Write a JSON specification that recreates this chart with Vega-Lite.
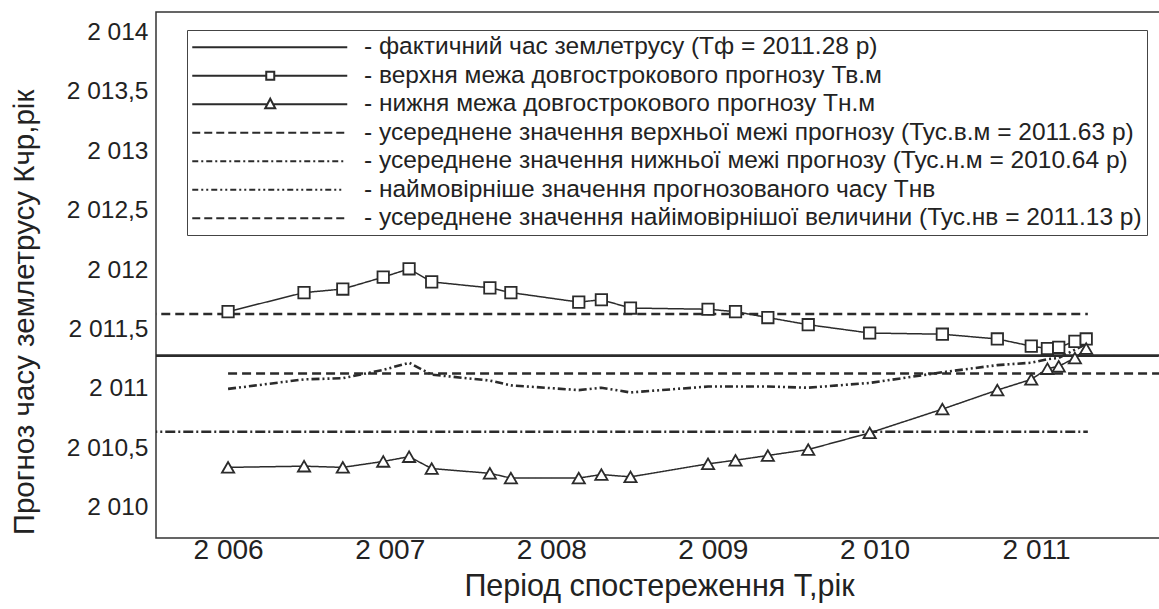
{
  "$schema": "https://vega.github.io/schema/vega-lite/v6.json",
  "width": 1006,
  "height": 526,
  "autosize": "none",
  "padding": {"left": 156, "top": 12, "right": 0, "bottom": 71},
  "background": "white",
  "config": {
    "font": "Liberation Sans",
    "view": {"stroke": "#333333", "strokeWidth": 1.5},
    "axis": {"grid": false, "ticks": false, "domain": false, "labelColor": "#222222", "titleColor": "#222222", "labelFont": "Liberation Sans", "titleFont": "Liberation Sans", "titleFontWeight": "normal"}
  },
  "data": {
    "values": [
      {"s": "a", "x": 2005.5, "y": 2011.28}, {"s": "a", "x": 2011.9, "y": 2011.28},
      {"s": "d", "x": 2005.5, "y": 2011.63}, {"s": "d", "x": 2011.32, "y": 2011.63},
      {"s": "e", "x": 2005.5, "y": 2010.64}, {"s": "e", "x": 2011.32, "y": 2010.64},
      {"s": "g", "x": 2006.0, "y": 2011.13}, {"s": "g", "x": 2011.9, "y": 2011.13},
      {"s": "b", "x": 2006.00, "y": 2011.65}, {"s": "b", "x": 2006.47, "y": 2011.81}, {"s": "b", "x": 2006.71, "y": 2011.84},
      {"s": "b", "x": 2006.96, "y": 2011.94}, {"s": "b", "x": 2007.12, "y": 2012.01}, {"s": "b", "x": 2007.26, "y": 2011.90},
      {"s": "b", "x": 2007.62, "y": 2011.85}, {"s": "b", "x": 2007.75, "y": 2011.81}, {"s": "b", "x": 2008.17, "y": 2011.73},
      {"s": "b", "x": 2008.31, "y": 2011.75}, {"s": "b", "x": 2008.49, "y": 2011.68}, {"s": "b", "x": 2008.97, "y": 2011.67},
      {"s": "b", "x": 2009.14, "y": 2011.65}, {"s": "b", "x": 2009.34, "y": 2011.60}, {"s": "b", "x": 2009.59, "y": 2011.54},
      {"s": "b", "x": 2009.97, "y": 2011.47}, {"s": "b", "x": 2010.42, "y": 2011.46}, {"s": "b", "x": 2010.76, "y": 2011.42},
      {"s": "b", "x": 2010.97, "y": 2011.36}, {"s": "b", "x": 2011.07, "y": 2011.34}, {"s": "b", "x": 2011.14, "y": 2011.35},
      {"s": "b", "x": 2011.24, "y": 2011.40}, {"s": "b", "x": 2011.31, "y": 2011.42},
      {"s": "c", "x": 2006.00, "y": 2010.34}, {"s": "c", "x": 2006.47, "y": 2010.35}, {"s": "c", "x": 2006.71, "y": 2010.34},
      {"s": "c", "x": 2006.96, "y": 2010.39}, {"s": "c", "x": 2007.12, "y": 2010.43}, {"s": "c", "x": 2007.26, "y": 2010.33},
      {"s": "c", "x": 2007.62, "y": 2010.29}, {"s": "c", "x": 2007.75, "y": 2010.25}, {"s": "c", "x": 2008.17, "y": 2010.25},
      {"s": "c", "x": 2008.31, "y": 2010.28}, {"s": "c", "x": 2008.49, "y": 2010.26}, {"s": "c", "x": 2008.97, "y": 2010.37},
      {"s": "c", "x": 2009.14, "y": 2010.40}, {"s": "c", "x": 2009.34, "y": 2010.44}, {"s": "c", "x": 2009.59, "y": 2010.49},
      {"s": "c", "x": 2009.97, "y": 2010.63}, {"s": "c", "x": 2010.42, "y": 2010.83}, {"s": "c", "x": 2010.76, "y": 2010.99},
      {"s": "c", "x": 2010.97, "y": 2011.08}, {"s": "c", "x": 2011.07, "y": 2011.17}, {"s": "c", "x": 2011.14, "y": 2011.19},
      {"s": "c", "x": 2011.24, "y": 2011.26}, {"s": "c", "x": 2011.31, "y": 2011.34},
      {"s": "f", "x": 2006.00, "y": 2011.00}, {"s": "f", "x": 2006.47, "y": 2011.08}, {"s": "f", "x": 2006.71, "y": 2011.09},
      {"s": "f", "x": 2006.96, "y": 2011.16}, {"s": "f", "x": 2007.12, "y": 2011.22}, {"s": "f", "x": 2007.26, "y": 2011.12},
      {"s": "f", "x": 2007.62, "y": 2011.07}, {"s": "f", "x": 2007.75, "y": 2011.03}, {"s": "f", "x": 2008.17, "y": 2010.99},
      {"s": "f", "x": 2008.31, "y": 2011.01}, {"s": "f", "x": 2008.49, "y": 2010.97}, {"s": "f", "x": 2008.97, "y": 2011.02},
      {"s": "f", "x": 2009.14, "y": 2011.02}, {"s": "f", "x": 2009.34, "y": 2011.02}, {"s": "f", "x": 2009.59, "y": 2011.01},
      {"s": "f", "x": 2009.97, "y": 2011.05}, {"s": "f", "x": 2010.42, "y": 2011.14}, {"s": "f", "x": 2010.76, "y": 2011.20},
      {"s": "f", "x": 2010.97, "y": 2011.22}, {"s": "f", "x": 2011.07, "y": 2011.25}, {"s": "f", "x": 2011.14, "y": 2011.26},
      {"s": "f", "x": 2011.24, "y": 2011.33}, {"s": "f", "x": 2011.31, "y": 2011.38}
    ]
  },
  "encoding": {
    "x": {
      "field": "x", "type": "quantitative",
      "scale": {"domain": [2005.554, 2011.779], "nice": false, "zero": false},
      "axis": {
        "values": [2006, 2007, 2008, 2009, 2010, 2011],
        "labelExpr": "replace(format(datum.value, ',d'), ',', ' ')",
        "labelFontSize": 28, "labelPadding": -2,
        "title": "Період спостереження Т,рік", "titleFontSize": 30.5, "titlePadding": 7
      }
    },
    "y": {
      "field": "y", "type": "quantitative",
      "scale": {"domain": [2009.746, 2014.17], "nice": false, "zero": false},
      "axis": {
        "values": [2010, 2010.5, 2011, 2011.5, 2012, 2012.5, 2013, 2013.5, 2014],
        "labelExpr": "replace(replace(format(datum.value, ',.1~f'), ',', ' '), '.', ',')",
        "labelFontSize": 24.5, "labelPadding": 8,
        "title": "Прогноз часу землетрусу Кчр,рік", "titleFontSize": 29.5,
        "titleX": -123, "titleY": 300, "titleBaseline": "alphabetic"
      }
    }
  },
  "layer": [
    {
      "mark": {"type": "line", "clip": true, "color": "#2b2b2b"},
      "encoding": {
        "strokeDash": {
          "field": "s", "type": "nominal",
          "scale": {
            "domain": ["g", "f", "e", "d", "c", "b", "a"],
            "range": [[9, 5], [8, 3, 2, 3, 2, 3], [10, 3, 2, 3], [9, 5], [1, 0], [1, 0], [1, 0]]
          },
          "legend": null
        },
        "strokeWidth": {
          "condition": {"test": "datum.s == 'b' || datum.s == 'c'", "value": 1.5},
          "value": 2.6
        }
      }
    },
    {
      "transform": [{"filter": "datum.s == 'b'"}],
      "mark": {"type": "point", "shape": "square", "filled": true, "fill": "white", "stroke": "#2b2b2b", "strokeWidth": 1.8, "size": 130, "opacity": 1}
    },
    {
      "transform": [{"filter": "datum.s == 'c'"}],
      "mark": {"type": "point", "shape": "triangle-up", "filled": true, "fill": "white", "stroke": "#2b2b2b", "strokeWidth": 1.8, "size": 150, "opacity": 1}
    },
    {
      "transform": [{"filter": "datum.s == 'zzz'"}],
      "mark": {"type": "point", "color": "#2b2b2b", "strokeWidth": 2, "opacity": 1},
      "encoding": {
        "shape": {
          "field": "s", "type": "nominal",
          "scale": {
            "domain": ["a", "b", "c", "d", "e", "f", "g"],
            "range": [
              "M-2.4,0H28.6",
              "M-2.4,0H12.4M14,0H28.6M12.4,-0.8H14V0.8H12.4Z",
              "M-2.4,0H12.62M13.78,0H28.6M13.2,-1.1L14.2,0.8H12.2Z",
              "M-2.4,0h1.6m0.8,0h1.6m0.8,0h1.6m0.8,0h1.6m0.8,0h1.6m0.8,0h1.6m0.8,0h1.6m0.8,0h1.6m0.8,0h1.6m0.8,0h1.6m0.8,0h1.6m0.8,0h1.6m0.8,0h1.6",
              "M-2.4,0h1.2m0.6,0h0.4m0.6,0h1.2m0.6,0h0.4m0.6,0h1.2m0.6,0h0.4m0.6,0h1.2m0.6,0h0.4m0.6,0h1.2m0.6,0h0.4m0.6,0h1.2m0.6,0h0.4m0.6,0h1.2m0.6,0h0.4m0.6,0h1.2m0.6,0h0.4m0.6,0h1.2m0.6,0h0.4m0.6,0h1.2m0.6,0h0.4m0.6,0h1.2m0.6,0h0.4",
              "M-2.4,0h1.2m0.6,0h0.4m0.6,0h0.4m0.6,0h1.2m0.6,0h0.4m0.6,0h0.4m0.6,0h1.2m0.6,0h0.4m0.6,0h0.4m0.6,0h1.2m0.6,0h0.4m0.6,0h0.4m0.6,0h1.2m0.6,0h0.4m0.6,0h0.4m0.6,0h1.2m0.6,0h0.4m0.6,0h0.4m0.6,0h1.2m0.6,0h0.4m0.6,0h0.4m0.6,0h1.2m0.6,0h0.4m0.6,0h0.4",
              "M-2.4,0h1.6m0.8,0h1.6m0.8,0h1.6m0.8,0h1.6m0.8,0h1.6m0.8,0h1.6m0.8,0h1.6m0.8,0h1.6m0.8,0h1.6m0.8,0h1.6m0.8,0h1.6m0.8,0h1.6m0.8,0h1.6"
            ]
          },
          "legend": {
            "orient": "none", "legendX": 31, "legendY": 18,
            "title": null, "padding": 5,
            "strokeColor": "#444444", "fillColor": "white",
            "symbolSize": 100, "symbolStrokeWidth": 2, "symbolStrokeColor": "#2b2b2b", "symbolFillColor": "transparent", "symbolOpacity": 1,
            "labelFontSize": 24.5, "labelColor": "#222222", "labelLimit": 0,
            "labelOffset": 147.5, "rowPadding": 3.5,
            "labelExpr": "datum.value == 'a' ? '- фактичний час землетрусу (Тф = 2011.28 р)' : datum.value == 'b' ? '- верхня межа довгострокового прогнозу Тв.м' : datum.value == 'c' ? '- нижня межа довгострокового прогнозу Тн.м' : datum.value == 'd' ? '- усереднене значення верхньої межі прогнозу (Тус.в.м = 2011.63 р)' : datum.value == 'e' ? '- усереднене значення нижньої межі прогнозу (Тус.н.м = 2010.64 р)' : datum.value == 'f' ? '- наймовірніше значення  прогнозованого часу Тнв' : '- усереднене значення найімовірнішої величини (Тус.нв = 2011.13 р)'"
          }
        }
      }
    }
  ]
}
